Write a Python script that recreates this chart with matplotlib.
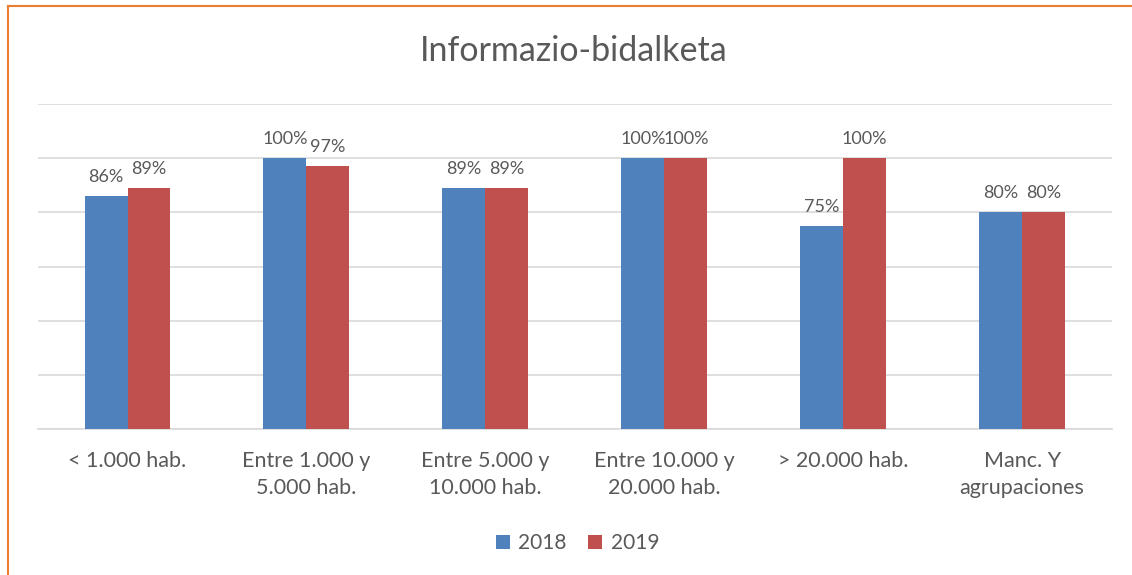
import numpy as np
import matplotlib.pyplot as plt
from matplotlib.lines import Line2D

plt.rcParams['font.family'] = ['Lato', 'DejaVu Sans']

# Datos
categorias = ["< 1.000 hab.", "Entre 1.000 y\n5.000 hab.", "Entre 5.000 y\n10.000 hab.",
              "Entre 10.000 y\n20.000 hab.", "> 20.000 hab.", "Manc. Y\nagrupaciones"]
valores_2018 = [86, 100, 89, 100, 75, 80]
valores_2019 = [89, 97, 89, 100, 100, 80]
series = ["2018", "2019"]
colores = ["#4F81BD", "#C0504D"]
gris = "#595959"

fig = plt.figure(figsize=(11.32, 5.75), dpi=100)
ax = fig.add_axes([0.0336, 0.254, 0.9484, 0.565])

x = np.arange(len(categorias))
w = 0.24
b1 = ax.bar(x - w / 2, valores_2018, w, color=colores[0], label=series[0], zorder=3)
b2 = ax.bar(x + w / 2, valores_2019, w, color=colores[1], label=series[1], zorder=3)

for barras in (b1, b2):
    for r in barras:
        ax.annotate(f"{r.get_height():.0f}%", (r.get_x() + r.get_width() / 2, r.get_height()),
                    xytext=(0, 8), textcoords="offset points", ha="center", va="bottom",
                    fontsize=13, color=gris)

ax.set_ylim(0, 120)
ax.set_xlim(-0.5, len(categorias) - 0.5)
ax.set_yticks(np.arange(0, 121, 20))
ax.yaxis.grid(True, color="#D9D9D9", linewidth=1.2, zorder=0)
ax.tick_params(axis="y", left=False, labelleft=False)
ax.tick_params(axis="x", length=0, pad=16)
ax.set_xticks(x)
ax.set_xticklabels(categorias, fontsize=15.5, color=gris, linespacing=1.4)
for s in ["top", "right", "left"]:
    ax.spines[s].set_visible(False)
ax.spines["bottom"].set_color("#D9D9D9")
ax.spines["bottom"].set_linewidth(1.2)

fig.text(0.507, 0.912, "Informazio-bidalketa", ha="center", va="center", fontsize=24.5, color=gris)

fig.legend(handles=[b1, b2], labels=series, loc="center", bbox_to_anchor=(0.51, 0.055), ncol=2,
           frameon=False, fontsize=15, handlelength=0.7, handleheight=0.7, columnspacing=1.0,
           handletextpad=0.4, labelcolor=gris)

# borde naranja (solo izquierda y arriba visibles)
fig.add_artist(Line2D([0.0075, 0.0075], [0, 0.99], transform=fig.transFigure, color="#ED7D31", linewidth=1.5))
fig.add_artist(Line2D([0.0075, 1.0], [0.99, 0.99], transform=fig.transFigure, color="#ED7D31", linewidth=1.5))

fig.savefig("out.png", dpi=100)
